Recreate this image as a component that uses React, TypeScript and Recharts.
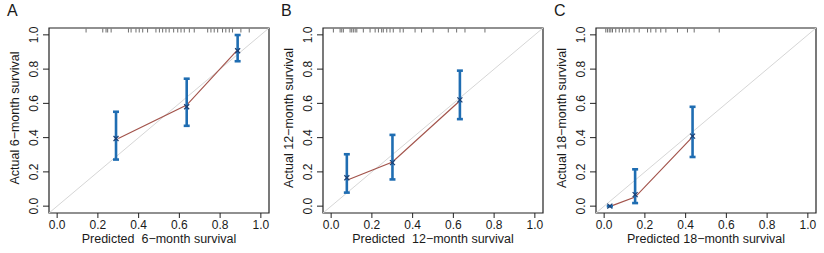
import { ComposedChart, XAxis, YAxis, Line, Scatter, ErrorBar, ReferenceLine, ReferenceArea } from 'recharts';

// calibration curves (predicted vs actual survival)
const axisTicks = [0, 0.2, 0.4, 0.6, 0.8, 1.0];
const panelLetters = ['A', 'B', 'C'];
const xTitles = ['Predicted  6\u2212month survival', 'Predicted  12\u2212month survival', 'Predicted 18\u2212month survival'];
const yTitles = ['Actual 6\u2212month survival', 'Actual 12\u2212month survival', 'Actual 18\u2212month survival'];

const predA = [0.289, 0.636, 0.886];
const obsA = [0.395, 0.58, 0.907];
const lowA = [0.272, 0.469, 0.846];
const highA = [0.551, 0.744, 0.999];
const lineXA = [0.3, 0.636, 0.88];
const lineYA = [0.395, 0.59, 0.905];
const rugA = [0.142, 0.224, 0.24, 0.248, 0.265, 0.35, 0.363, 0.387, 0.403, 0.42, 0.444, 0.485, 0.502, 0.518, 0.534, 0.55, 0.572, 0.592, 0.608, 0.624, 0.649, 0.673, 0.739, 0.755, 0.771, 0.788, 0.812, 0.828, 0.845, 0.861, 0.902, 0.943];

const predB = [0.077, 0.301, 0.632];
const obsB = [0.166, 0.254, 0.62];
const lowB = [0.079, 0.156, 0.508];
const highB = [0.303, 0.416, 0.791];
const lineXB = [0.077, 0.301, 0.632];
const lineYB = [0.151, 0.258, 0.615];
const rugB = [0.011, 0.044, 0.052, 0.06, 0.093, 0.101, 0.109, 0.118, 0.126, 0.158, 0.191, 0.216, 0.232, 0.248, 0.256, 0.273, 0.289, 0.305, 0.338, 0.354, 0.412, 0.444, 0.501, 0.575, 0.616, 0.657, 0.755];

const predC = [0.028, 0.152, 0.434];
const obsC = [0.0, 0.067, 0.409];
const lowC = [0.0, 0.018, 0.287];
const highC = [0.0, 0.215, 0.58];
const lineXC = [0.033, 0.152, 0.434];
const lineYC = [0.0, 0.053, 0.404];
const rugC = [0.008, 0.016, 0.025, 0.033, 0.041, 0.057, 0.074, 0.09, 0.107, 0.123, 0.147, 0.172, 0.213, 0.229, 0.254, 0.278, 0.303, 0.36, 0.409, 0.442, 0.565];

const boxLefts = [49, 323, 596];
const BOX_W = 220;
const FONT = '"Liberation Sans", Arial, sans-serif';
const TEXT = '#1a1a1a';
const BLUE = '#1f6db2';
const BROWN = '#a3544c';

const YTick = (props: any) => {
  const { x, y, payload } = props;
  const cx = x - 7;
  return (
    <text x={cx} y={y} dy="0.35em" textAnchor="middle" fontSize={12} fill={TEXT} fontFamily={FONT} transform={`rotate(-90 ${cx} ${y})`}>
      {payload.value.toFixed(1)}
    </text>
  );
};

const XMark = (props: any) => {
  const { cx, cy } = props;
  if (cx == null || cy == null) return null;
  return (
    <g stroke="#1b3f73" strokeWidth={1.2}>
      <line x1={cx - 2.5} y1={cy - 2.5} x2={cx + 2.5} y2={cy + 2.5} />
      <line x1={cx - 2.5} y1={cy + 2.5} x2={cx + 2.5} y2={cy - 2.5} />
    </g>
  );
};

const RugMark = (props: any) => {
  const { cx, cy } = props;
  if (cx == null || cy == null) return null;
  return <line x1={cx} x2={cx} y1={cy + 0.5} y2={cy + 4.5} stroke="#6e6e6e" strokeWidth={1} />;
};

const Panel = ({ index, pred, obs, low, high, lineX, lineY, rug }: any) => {
  const points = pred.map((x: number, i: number) => ({ x, y: obs[i], err: [obs[i] - low[i], high[i] - obs[i]] }));
  const curve = lineX.map((x: number, i: number) => ({ x, y: lineY[i] }));
  const rugPts = rug.map((x: number) => ({ x, y: 1.04 }));
  const boxLeft = boxLefts[index];
  const chartLeft = boxLeft - 49;

  return (
    <div style={{ position: 'absolute', left: chartLeft, top: 0, width: 275, height: 253 }}>
      <ComposedChart width={275} height={253} margin={{ top: 28, right: 275 - 49 - BOX_W, bottom: 0, left: 0 }}>
        <XAxis
          type="number"
          dataKey="x"
          domain={[-0.04, 1.04]}
          ticks={axisTicks}
          allowDataOverflow
          axisLine={false}
          tickSize={5}
          tickLine={{ stroke: '#222' }}
          tick={{ fontSize: 12, fill: TEXT, fontFamily: FONT }}
          tickFormatter={(v: number) => v.toFixed(1)}
          height={40}
        />
        <YAxis
          type="number"
          dataKey="y"
          domain={[-0.04, 1.04]}
          ticks={axisTicks}
          allowDataOverflow
          axisLine={false}
          tickSize={6}
          tickLine={{ stroke: '#222' }}
          tick={<YTick />}
          width={49}
        />
        <ReferenceLine
          segment={[{ x: -0.04, y: -0.04 }, { x: 1.04, y: 1.04 }]}
          stroke="#d6d6d6"
          strokeWidth={1}
          ifOverflow="visible"
        />
        <ReferenceArea x1={-0.04} x2={1.04} y1={-0.04} y2={1.04} fill="none" stroke="#222" strokeWidth={1.2} ifOverflow="visible" />
        <Scatter data={rugPts} dataKey="y" shape={<RugMark />} isAnimationActive={false} />
        <Line data={curve} dataKey="y" type="linear" stroke={BROWN} strokeWidth={1.2} dot={false} isAnimationActive={false} />
        <Scatter data={points} dataKey="y" shape={<XMark />} isAnimationActive={false}>
          <ErrorBar dataKey="err" direction="y" width={3} stroke={BLUE} strokeWidth={2.6} />
        </Scatter>
      </ComposedChart>
      <div style={{ position: 'absolute', left: boxLeft - chartLeft - 42, top: 2, fontSize: 16, fontFamily: FONT, color: TEXT }}>
        {panelLetters[index]}
      </div>
      <div style={{ position: 'absolute', left: boxLeft - chartLeft, width: BOX_W, top: 232, textAlign: 'center', fontSize: 12.5, fontFamily: FONT, color: TEXT, whiteSpace: 'pre' }}>
        {xTitles[index]}
      </div>
      <div style={{ position: 'absolute', left: boxLeft - chartLeft - 34 - 100, top: 118 - 8, width: 200, height: 16, lineHeight: '16px', textAlign: 'center', fontSize: 12.5, fontFamily: FONT, color: TEXT, transform: 'rotate(-90deg)', whiteSpace: 'pre' }}>
        {yTitles[index]}
      </div>
    </div>
  );
};

export default function App() {
  return (
    <div style={{ position: 'absolute', left: 0, top: 0, width: 824, height: 253, background: '#fff', overflow: 'hidden' }}>
      <Panel index={0} pred={predA} obs={obsA} low={lowA} high={highA} lineX={lineXA} lineY={lineYA} rug={rugA} />
      <Panel index={1} pred={predB} obs={obsB} low={lowB} high={highB} lineX={lineXB} lineY={lineYB} rug={rugB} />
      <Panel index={2} pred={predC} obs={obsC} low={lowC} high={highC} lineX={lineXC} lineY={lineYC} rug={rugC} />
    </div>
  );
}
